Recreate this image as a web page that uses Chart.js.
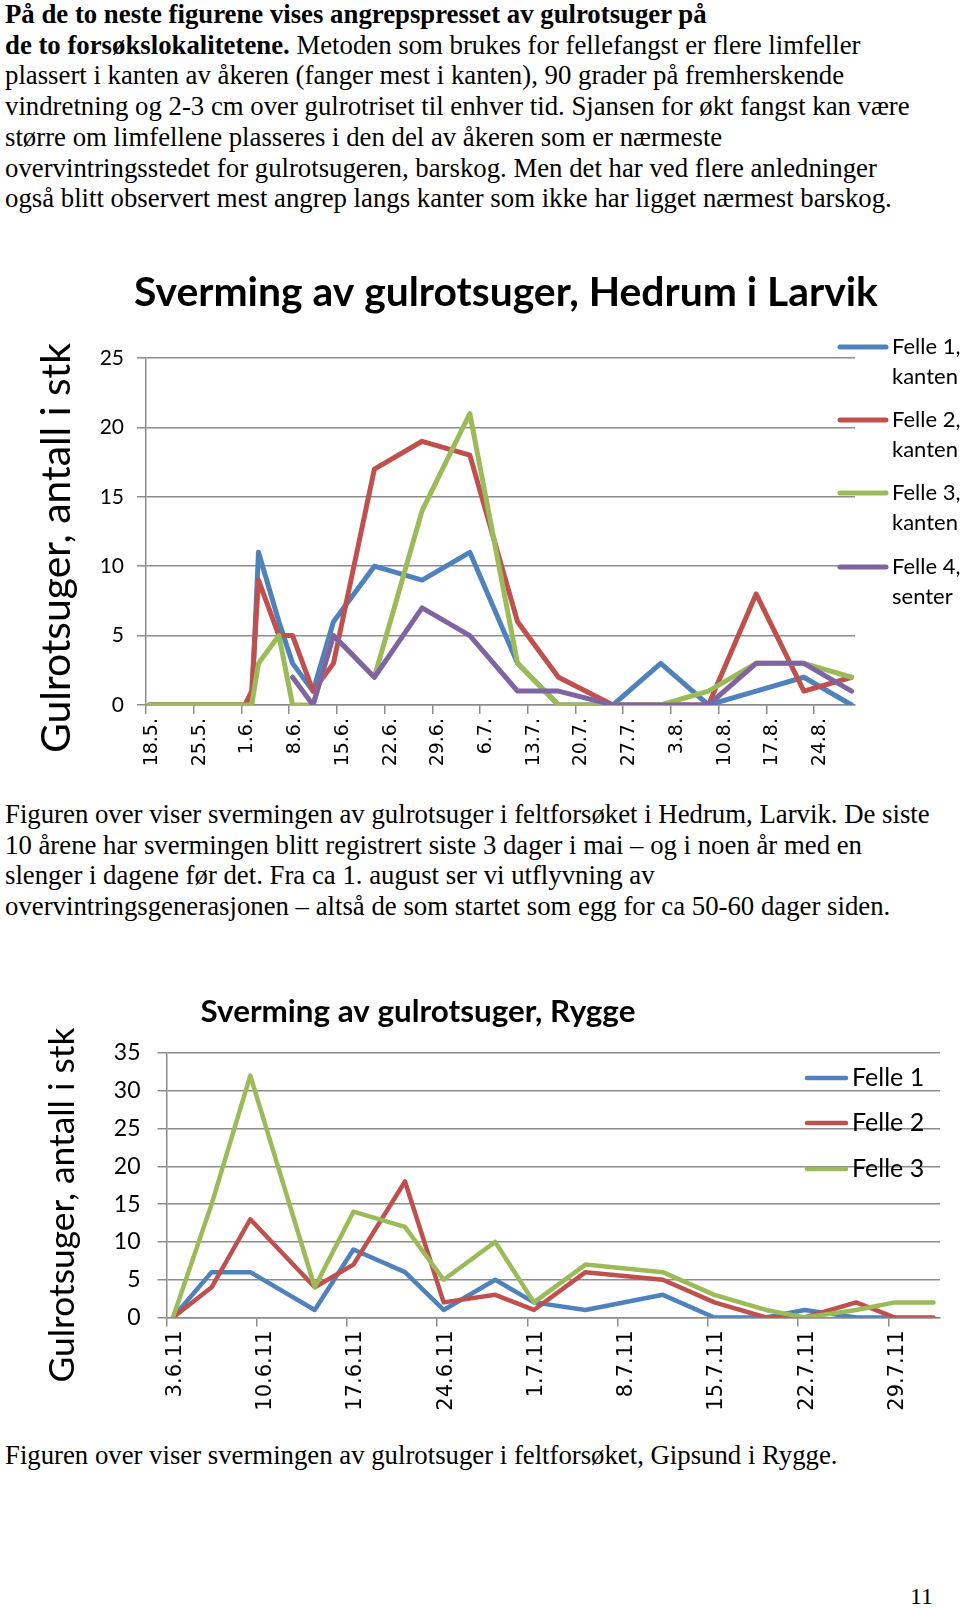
<!DOCTYPE html>
<html><head><meta charset="utf-8">
<script src="https://cdn.jsdelivr.net/npm/chart.js@4.4.1/dist/chart.umd.min.js"></script>
<style>
html,body{margin:0;padding:0;background:#fff;}
body{width:960px;height:1610px;position:relative;overflow:hidden;}
.txt{position:absolute;left:5px;font-family:"Liberation Serif","Times New Roman",serif;font-size:24px;line-height:30.7px;color:#000;white-space:nowrap;}
canvas{position:absolute;left:0;}
#pg{position:absolute;left:910px;top:1583px;font-family:"Liberation Serif",serif;font-size:24px;}
</style></head><body>
<div class="txt" id="p1" style="top:-1px"><b>På de to neste figurene vises angrepspresset av gulrotsuger på</b><br><b>de to forsøkslokalitetene.</b> Metoden som brukes for fellefangst er flere limfeller<br>plassert i kanten av åkeren (fanger mest i kanten), 90 grader på fremherskende<br><span id="w1">vindretning og 2-3 cm over gulrotriset til enhver tid. Sjansen for økt fangst kan være</span><br>større om limfellene plasseres i den del av åkeren som er nærmeste<br>overvintringsstedet for gulrotsugeren, barskog. Men det har ved flere anledninger<br>også blitt observert mest angrep langs kanter som ikke har ligget nærmest barskog.</div>
<div class="txt" id="p2" style="top:799px"><span id="w2">Figuren over viser svermingen av gulrotsuger i feltforsøket i Hedrum, Larvik. De siste</span><br>10 årene har svermingen blitt registrert siste 3 dager i mai – og i noen år med en<br>slenger i dagene før det. Fra ca 1. august ser vi utflyvning av<br>overvintringsgenerasjonen – altså de som startet som egg for ca 50-60 dager siden.</div>
<div class="txt" id="p3" style="top:1440px"><span id="w3">Figuren over viser svermingen av gulrotsuger i feltforsøket, Gipsund i Rygge.</span></div>
<div id="pg">11</div>
<canvas id="c1" width="960" height="540" style="top:240px;width:960px;height:540px"></canvas>
<canvas id="c2" width="960" height="470" style="top:950px;width:960px;height:470px"></canvas>
<script>
// ---------- DATA ----------
// Hedrum i Larvik
const hedrumTickLabels = ["18.5.","25.5.","1.6.","8.6.","15.6.","22.6.","29.6.","6.7.","13.7.","20.7.","27.7.","3.8.","10.8.","17.8.","24.8."];
const hedrumDates = ["18.5.","25.5.","1.6.","2.6.","3.6.","6.6.","8.6.","11.6.","14.6.","20.6.","27.6.","4.7.","11.7.","17.7.","25.7.","1.8.","8.8.","15.8.","22.8.","29.8."];
const hedrumFelle1 = [0,0,0,0,11,6,3,1,6,10,9,11,3,0,0,3,0,1,2,0];
const hedrumFelle2 = [0,0,0,1,9,5,5,1,3,17,19,18,6,2,0,0,0,8,1,2];
const hedrumFelle3 = [0,0,0,0,3,5,0,0,5,2,14,21,3,0,0,0,1,3,3,2];
const hedrumFelle4 = [null,null,null,null,null,null,2,0,5,2,7,5,1,1,0,0,0,3,3,1];
const hedrumNames = [["Felle 1,","kanten"],["Felle 2,","kanten"],["Felle 3,","kanten"],["Felle 4,","senter"]];
const hedrumYTicks = [0,5,10,15,20,25];

// Rygge
const ryggeTickLabels = ["3.6.11","10.6.11","17.6.11","24.6.11","1.7.11","8.7.11","15.7.11","22.7.11","29.7.11"];
const ryggeDates = ["3.6.11","6.6.11","9.6.11","14.6.11","17.6.11","21.6.11","24.6.11","28.6.11","1.7.11","5.7.11","11.7.11","15.7.11","19.7.11","22.7.11","26.7.11","29.7.11","1.8.11"];
const ryggeFelle1 = [0,6,6,1,9,6,1,5,2,1,3,0,0,1,0,0,null];
const ryggeFelle2 = [0,4,13,4,7,18,2,3,1,6,5,2,0,0,2,0,0];
const ryggeFelle3 = [0,15,32,4,14,12,5,10,2,7,6,3,1,0,1,2,2];
const ryggeNames = ["Felle 1","Felle 2","Felle 3"];
const ryggeYTicks = [0,5,10,15,20,25,30,35];

const COLORS = ["#4F81BD","#C0504D","#9BBB59","#8064A2"];
const CF = "Lato, 'Open Sans', sans-serif";

// ---------- helpers ----------
function dayOf(s){ const p=s.split('.'); return Date.UTC(2011, +p[1]-1, +p[0])/86400000; }
function offsets(dates, ref){ const r=dayOf(ref); return dates.map(d=>dayOf(d)-r); }
const mctx = document.createElement('canvas').getContext('2d');
function fit(text, weight, family, target){ mctx.font = `${weight} 100px ${family}`; return 100*target/mctx.measureText(text).width; }

(function(){
  const fam = '"Liberation Serif", serif';
  const s1 = fit(document.getElementById('w1').textContent,'normal',fam,905);
  const s2 = fit(document.getElementById('w2').textContent,'normal',fam,925);
  const s3 = fit(document.getElementById('w3').textContent,'normal',fam,833);
  document.getElementById('p1').style.fontSize = s1+'px';
  document.getElementById('p2').style.fontSize = s2+'px';
  document.getElementById('p3').style.fontSize = s3+'px';
})();

const decor = {
  id:'decor',
  afterDraw(chart, args, o){
    const ctx = chart.ctx; ctx.save(); ctx.fillStyle='#000';
    let fs = fit(o.title,'bold',CF,o.titleW);
    ctx.font = `bold ${fs}px ${CF}`; ctx.textAlign='center'; ctx.textBaseline='middle';
    ctx.fillText(o.title, o.titleX, o.titleY);
    fs = fit(o.yTitle,'normal',CF,o.yTitleW);
    ctx.save(); ctx.translate(o.yTitleX,o.yTitleY); ctx.rotate(-Math.PI/2);
    ctx.font = `normal ${fs}px ${CF}`; ctx.fillText(o.yTitle,0,0); ctx.restore();
    ctx.textAlign='left';
    ctx.font = `normal ${o.legSize}px ${CF}`;
    chart.data.datasets.forEach((ds,i)=>{
      const y = o.legY[i];
      ctx.strokeStyle = ds.borderColor; ctx.lineWidth = ds.borderWidth; ctx.lineCap='round';
      ctx.beginPath(); ctx.moveTo(o.legX1,y); ctx.lineTo(o.legX2,y); ctx.stroke();
      const lines = o.names[i];
      (Array.isArray(lines)?lines:[lines]).forEach((t,k)=>ctx.fillText(t,o.legTX,y+k*o.legLH));
    });
    ctx.restore();
  }
};

function buildChart(id, cfg){
  const xs = offsets(cfg.dates, cfg.ticks[0]);
  const tickDays = offsets(cfg.ticks, cfg.ticks[0]);
  const datasets = cfg.series.map((arr,i)=>({
    label: Array.isArray(cfg.names[i])?cfg.names[i].join(' '):cfg.names[i],
    data: arr.map((v,k)=>({x: xs[k]+0.5, y: v})),
    borderColor: COLORS[i], backgroundColor: COLORS[i], borderWidth: cfg.lw,
    pointRadius: 0, tension: 0, borderJoinStyle:'round', borderCapStyle:'round',
    order: cfg.series.length - i, spanGaps:false
  }));
  return new Chart(document.getElementById(id), {
    type:'line',
    data:{datasets},
    plugins:[decor],
    options:{
      responsive:false, animation:false, devicePixelRatio:1,
      layout:{padding:{left:0,top:cfg.area.top,right:cfg.W-cfg.area.right,bottom:0}},
      plugins:{legend:{display:false}, tooltip:{enabled:false}, title:{display:false}, decor:cfg.decor},
      scales:{
        x:{type:'linear', min:0, max:cfg.xmax,
          afterBuildTicks: s=>{ s.ticks = tickDays.map(v=>({value:v})); },
          afterFit: s=>{ s.height = cfg.H - cfg.area.bottom; },
          ticks:{autoSkip:false, minRotation:90, maxRotation:90, padding:cfg.xPad, labelOffset:cfg.xOff,
            color:'#000', font:{family:'"DejaVu Sans", sans-serif', size:cfg.xFont},
            callback:(v,i)=>cfg.ticks[i]},
          grid:{drawOnChartArea:false, drawTicks:true, tickLength:9, color:'#8c8c8c', lineWidth:1.5},
          border:{display:true, color:'#8c8c8c', width:1.5}
        },
        y:{min:0, max:cfg.ymax,
          afterBuildTicks: s=>{ s.ticks = cfg.yTicks.map(v=>({value:v})); },
          afterFit: s=>{ s.width = cfg.area.left; },
          ticks:{padding:cfg.yPad, color:'#000', font:{family:CF, size:cfg.yFont}},
          grid:{color:'#8c8c8c', lineWidth:1.5, tickLength:9, drawTicks:true},
          border:{display:true, color:'#8c8c8c', width:1.5}
        }
      }
    }
  });
}

buildChart('c1', {
  W:960, H:540, area:{left:146, right:855, top:118, bottom:465},
  dates:hedrumDates, ticks:hedrumTickLabels, series:[hedrumFelle1,hedrumFelle2,hedrumFelle3,hedrumFelle4],
  names:hedrumNames, yTicks:hedrumYTicks, ymax:25, xmax:104, lw:5, xFont:19, yFont:21, xPad:4, yPad:13, xOff:6,
  decor:{title:"Sverming av gulrotsuger, Hedrum i Larvik", titleW:744, titleX:506, titleY:53,
    yTitle:"Gulrotsuger, antall i stk", yTitleW:410, yTitleX:57, yTitleY:308,
    names:hedrumNames, legX1:840, legX2:886, legTX:892, legY:[107,180,253,327], legLH:30, legSize:22}
});

buildChart('c2', {
  W:960, H:470, area:{left:166.5, right:940, top:103, bottom:367.5},
  dates:ryggeDates, ticks:ryggeTickLabels, series:[ryggeFelle1,ryggeFelle2,ryggeFelle3],
  names:ryggeNames, yTicks:ryggeYTicks, ymax:35, xmax:60, lw:4.5, xFont:21, yFont:23, xPad:4, yPad:17, xOff:9,
  decor:{title:"Sverming av gulrotsuger, Rygge", titleW:435, titleX:418, titleY:62,
    yTitle:"Gulrotsuger, antall i stk", yTitleW:355, yTitleX:63, yTitleY:255,
    names:ryggeNames, legX1:807, legX2:846, legTX:852, legY:[128,173,219], legLH:0, legSize:25}
});
</script>
</body></html>
